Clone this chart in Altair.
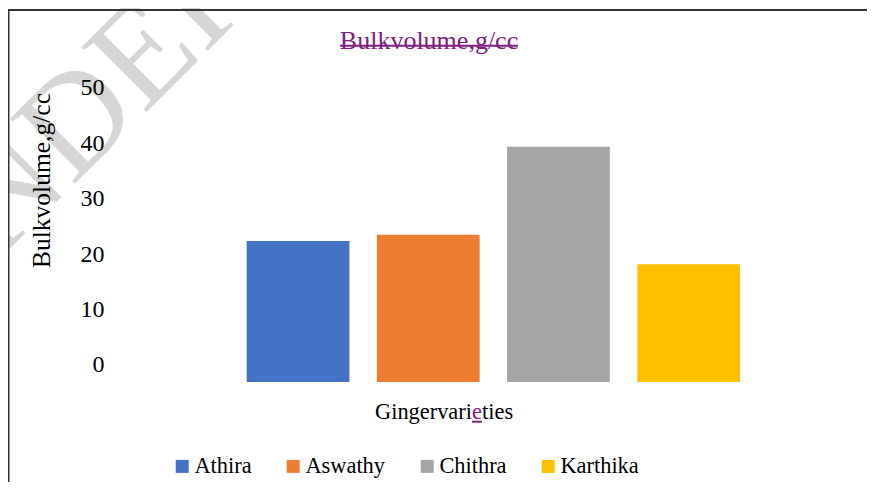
import altair as alt
import pandas as pd

VARIETIES = ["Athira", "Aswathy", "Chithra", "Karthika"]
BULK_VOLUME = [22.4, 23.5, 39.4, 18.2]
COLORS = ["#4472C4", "#ED7D31", "#A5A5A5", "#FFC000"]
Y_TICKS = [0, 10, 20, 30, 40, 50]
Y_DOMAIN = [-3.07, 55.05]
TITLE = "Bulkvolume,g/cc"
Y_TITLE = "Bulkvolume,g/cc"
X_TITLE_PARTS = ["Gingervari", "e", "ties"]
WATERMARK = "NDEI"

FONT = "Liberation Serif"
LEGEND_FONT = "Times New Roman"
PURPLE = "#7F1F80"
W, H = 757, 322

df = pd.DataFrame({"Variety": VARIETIES, "Value": BULK_VOLUME})
one = pd.DataFrame({"k": [0]})

bars = alt.Chart(df).mark_bar().encode(
    x=alt.X("Variety:N", sort=VARIETIES, axis=None,
            scale=alt.Scale(range=[136.7, 630], paddingInner=0.211, paddingOuter=0)),
    y=alt.Y("Value:Q",
            scale=alt.Scale(domain=Y_DOMAIN, nice=False, zero=False),
            axis=alt.Axis(values=Y_TICKS, grid=False, domain=False, ticks=False, tickSize=0,
                          labelFont=FONT, labelFontSize=24, labelColor="black",
                          labelPadding=6, labelAlign="right", labelBaseline="middle",
                          title=Y_TITLE, titleFont=FONT, titleFontSize=25.5,
                          titleFontWeight="normal", titleColor="black",
                          titleAngle=270, titleX=-69, titleY=120,
                          titleAlign="center", titleBaseline="middle", zindex=1)),
    y2=alt.datum(Y_DOMAIN[0]),
    color=alt.Color("Variety:N", sort=VARIETIES,
                    scale=alt.Scale(domain=VARIETIES, range=COLORS),
                    legend=alt.Legend(title=None, orient="none", legendX=61, legendY=395,
                                      direction="horizontal", symbolType="square",
                                      symbolSize=169, symbolStrokeWidth=0,
                                      labelFont=LEGEND_FONT, labelFontSize=22.4, labelColor="black",
                                      columnPadding=30, labelOffset=1, padding=0, zindex=1)),
)

watermark = alt.Chart(one).mark_text(
    text=WATERMARK, angle=315, align="left", baseline="alphabetic",
    font=FONT, fontSize=140, color="#d6d6d6"
).encode(x=alt.value(-109.5), y=alt.value(197.9))

title = alt.Chart(one).mark_text(
    text=TITLE, align="center", baseline="alphabetic", font=FONT, fontSize=26, color=PURPLE
).encode(x=alt.value(319), y=alt.value(-11))

strike = alt.Chart(one).mark_rule(color=PURPLE, strokeWidth=2).encode(
    x=alt.value(230), x2=alt.value(408), y=alt.value(-14.3))

xt1 = alt.Chart(one).mark_text(text=X_TITLE_PARTS[0], align="right", baseline="alphabetic",
                               font=FONT, fontSize=22.4, color="black").encode(
    x=alt.value(362), y=alt.value(359))
xt2 = alt.Chart(one).mark_text(text=X_TITLE_PARTS[1], align="left", baseline="alphabetic",
                               font=FONT, fontSize=22.4, color=PURPLE).encode(
    x=alt.value(362), y=alt.value(359))
xt3 = alt.Chart(one).mark_text(text=X_TITLE_PARTS[2], align="left", baseline="alphabetic",
                               font=FONT, fontSize=22.4, color="black").encode(
    x=alt.value(372), y=alt.value(359))
underline = alt.Chart(one).mark_rule(color=PURPLE, strokeWidth=2).encode(
    x=alt.value(362), x2=alt.value(372), y=alt.value(361.7))

top_border = alt.Chart(one).mark_rule(color="#333333", strokeWidth=2).encode(
    x=alt.value(-102), x2=alt.value(W), y=alt.value(-50))
left_border = alt.Chart(one).mark_rule(color="#333333", strokeWidth=1.5).encode(
    x=alt.value(-101.25), y=alt.value(-51), y2=alt.value(H + 100))

chart = alt.layer(
    watermark, bars, title, strike, xt1, xt2, xt3, underline, top_border, left_border
).properties(
    width=W, height=H,
    padding={"left": 102, "top": 52, "right": 0, "bottom": 100},
    autosize=alt.AutoSizeParams(type="none"),
    background="white",
).configure_view(stroke=None)

chart.save("out.html", embed_options={"renderer": "svg", "actions": False})
